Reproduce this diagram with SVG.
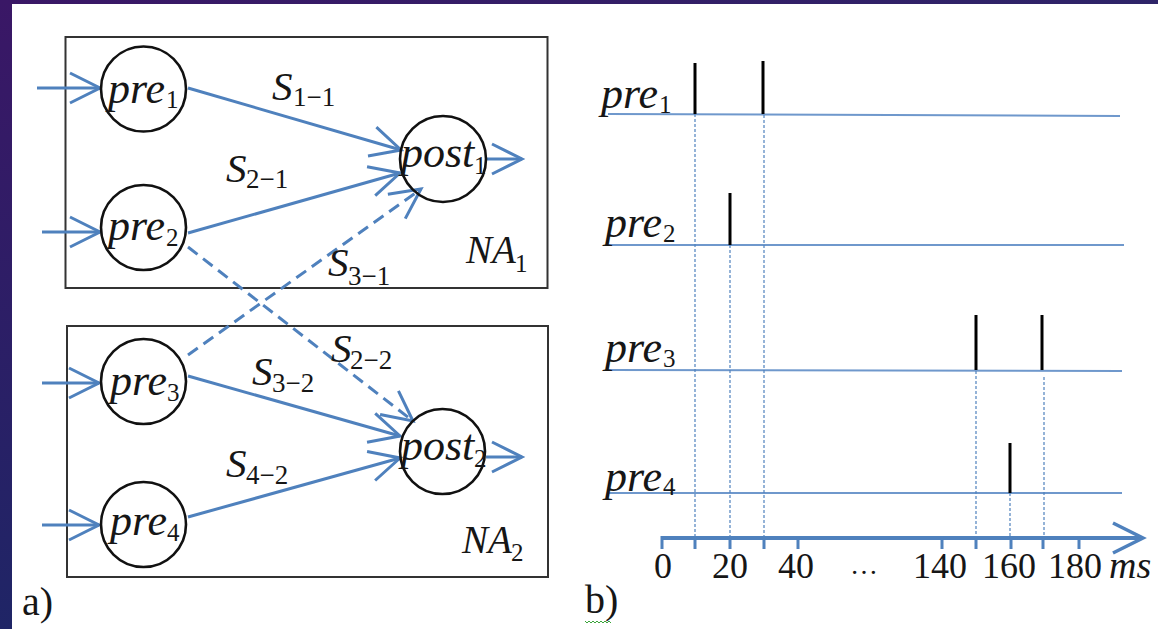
<svg xmlns="http://www.w3.org/2000/svg" width="1158" height="629" viewBox="0 0 1158 629">
<defs>
<linearGradient id="gTop" x1="0" y1="0" x2="1" y2="0">
<stop offset="0" stop-color="#3a1766"/><stop offset="1" stop-color="#2e2468"/>
</linearGradient>
<linearGradient id="gLeft" x1="0" y1="0" x2="0" y2="1">
<stop offset="0" stop-color="#3a1766"/><stop offset="1" stop-color="#1f2566"/>
</linearGradient>
<marker id="chev" markerUnits="userSpaceOnUse" orient="auto" overflow="visible" markerWidth="40" markerHeight="40" refX="0" refY="0">
<path d="M-30,-15 L0,0 L-30,15" fill="none" stroke="#4f81bd" stroke-width="3" stroke-linejoin="miter"/>
</marker>
<style>
.bg{fill:#ffffff}
.box{fill:none;stroke:#333333;stroke-width:2}
.node{fill:#ffffff;stroke:#111111;stroke-width:2.6}
.syn{fill:none;stroke:#4f81bd;stroke-width:3;marker-end:url(#chev)}
.dash{stroke-dasharray:12 7}
.tl{fill:none;stroke:#6f98cc;stroke-width:2}
.vd{fill:none;stroke:#4f81bd;stroke-width:1.2;stroke-dasharray:3 2}
.spike{stroke:#000000;stroke-width:3}
.axis{fill:none;stroke:#4f81bd;stroke-width:4}
.tick{stroke:#4f81bd;stroke-width:3}
.m{font-family:"Liberation Serif",serif;font-style:italic;fill:#161616}
.n{font-size:44px}
.s{font-size:41px}
.na{font-size:39px}
.sub{font-family:"Liberation Serif",serif;font-style:normal;fill:#161616;font-size:25px}
.ssub{font-family:"Liberation Serif",serif;font-style:normal;fill:#161616;font-size:27px}
.num{font-family:"Liberation Serif",serif;fill:#161616;font-size:36px}
.lab{font-family:"Liberation Serif",serif;fill:#161616;font-size:40px}
</style>
</defs>
<rect class="bg" x="0" y="0" width="1158" height="629"/>
<rect x="0" y="0" width="1158" height="4" fill="url(#gTop)"/>
<rect x="0" y="0" width="12" height="629" fill="url(#gLeft)"/>

<g id="NA1">
<rect class="box" x="65.5" y="37" width="482" height="251"/>
<text class="m na" x="466" y="263">NA</text><text class="sub" x="515" y="272">1</text>
</g>
<g id="NA2">
<rect class="box" x="67" y="326" width="481" height="251"/>
<text class="m na" x="462" y="553">NA</text><text class="sub" x="511" y="561">2</text>
</g>

<g id="connectors">
<line class="syn" x1="37" y1="88" x2="100" y2="88"/>
<line class="syn" x1="42" y1="232" x2="100" y2="232"/>
<line class="syn" x1="42" y1="383" x2="99" y2="383"/>
<line class="syn" x1="42" y1="525" x2="99" y2="525"/>
<line class="syn" x1="188" y1="88" x2="401" y2="150"/>
<line class="syn" x1="188" y1="233" x2="400" y2="173"/>
<line class="syn dash" x1="188" y1="355" x2="421" y2="189"/>
<line class="syn dash" x1="188" y1="247" x2="413" y2="421"/>
<line class="syn" x1="188" y1="376" x2="400" y2="436"/>
<line class="syn" x1="188" y1="517" x2="400" y2="458"/>
<line class="syn" x1="486" y1="159" x2="522" y2="159"/>
<line class="syn" x1="486" y1="457" x2="522" y2="457"/>
<text class="m s" x="272" y="100">S</text><text class="ssub" x="293" y="106">1−1</text>
<text class="m s" x="226" y="182">S</text><text class="ssub" x="246" y="188">2−1</text>
<text class="m s" x="328" y="276">S</text><text class="ssub" x="348" y="285">3−1</text>
<text class="m s" x="331" y="362">S</text><text class="ssub" x="350" y="369">2−2</text>
<text class="m s" x="252" y="385">S</text><text class="ssub" x="272" y="392">3−2</text>
<text class="m s" x="226" y="477">S</text><text class="ssub" x="246" y="484">4−2</text>
</g>

<g id="pre1">
<circle class="node" cx="143.5" cy="89" r="42.5"/>
<text class="m n" x="108" y="103">pre</text><text class="sub" x="166" y="108">1</text>
</g>
<g id="pre2">
<circle class="node" cx="143.5" cy="227.5" r="42.5"/>
<text class="m n" x="108" y="240">pre</text><text class="sub" x="166" y="246">2</text>
</g>
<g id="pre3">
<circle class="node" cx="143.5" cy="381.5" r="42.5"/>
<text class="m n" x="110" y="395">pre</text><text class="sub" x="167" y="401">3</text>
</g>
<g id="pre4">
<circle class="node" cx="143.5" cy="524.5" r="42.5"/>
<text class="m n" x="110" y="535">pre</text><text class="sub" x="167" y="541">4</text>
</g>
<g id="post1">
<circle class="node" cx="443" cy="159" r="43" style="fill:none"/>
<text class="m n" x="401" y="167">post</text><text class="sub" x="474" y="174">1</text>
</g>
<g id="post2">
<circle class="node" cx="442.5" cy="451.5" r="42.5" style="fill:none"/>
<text class="m n" x="401" y="460">post</text><text class="sub" x="474" y="467">2</text>
</g>

<text class="lab" x="22" y="615">a)</text>

<g id="timeline">
<line class="tl" x1="608" y1="114" x2="1120" y2="116"/>
<line class="tl" x1="608" y1="245" x2="1124" y2="245"/>
<line class="tl" x1="608" y1="370" x2="1122" y2="371"/>
<line class="tl" x1="608" y1="493" x2="1122" y2="493"/>
<line class="vd" x1="695" y1="114" x2="695" y2="538"/>
<line class="vd" x1="730" y1="245" x2="730" y2="538"/>
<line class="vd" x1="764" y1="115" x2="764" y2="538"/>
<line class="vd" x1="976" y1="371" x2="976" y2="538"/>
<line class="vd" x1="1010" y1="493" x2="1010" y2="538"/>
<line class="vd" x1="1044" y1="377" x2="1044" y2="538"/>
<line class="spike" x1="695" y1="63" x2="695" y2="114"/>
<line class="spike" x1="763" y1="61" x2="763" y2="114"/>
<line class="spike" x1="730" y1="193" x2="730" y2="245"/>
<line class="spike" x1="976" y1="315" x2="976" y2="370"/>
<line class="spike" x1="1042" y1="315" x2="1042" y2="370"/>
<line class="spike" x1="1010" y1="443" x2="1010" y2="493"/>
<line class="axis" x1="662" y1="538" x2="1141" y2="538"/>
<path d="M1113,523 L1143,538 L1113,553" fill="none" stroke="#4f81bd" stroke-width="3.5"/>
<g class="tick">
<line x1="662" y1="536" x2="662" y2="549"/><line x1="695" y1="536" x2="695" y2="549"/>
<line x1="730" y1="536" x2="730" y2="549"/><line x1="764" y1="536" x2="764" y2="549"/>
<line x1="798" y1="536" x2="798" y2="549"/><line x1="942" y1="536" x2="942" y2="549"/>
<line x1="976" y1="536" x2="976" y2="549"/><line x1="1011" y1="536" x2="1011" y2="549"/>
<line x1="1043" y1="536" x2="1043" y2="549"/><line x1="1079" y1="536" x2="1079" y2="549"/>
</g>
<text class="num" x="654" y="578">0</text>
<text class="num" x="712" y="578">20</text>
<text class="num" x="778" y="578">40</text>
<text class="num" x="850" y="574" style="font-size:28px">…</text>
<text class="num" x="913" y="578">140</text>
<text class="num" x="982" y="578">160</text>
<text class="num" x="1048" y="578">180</text>
<text class="m" x="1109" y="578" style="font-size:38px">ms</text>
<text class="m n" x="601" y="108">pre</text><text class="sub" x="659" y="113">1</text>
<text class="m n" x="605" y="237">pre</text><text class="sub" x="663" y="242">2</text>
<text class="m n" x="605" y="362">pre</text><text class="sub" x="663" y="367">3</text>
<text class="m n" x="605" y="491">pre</text><text class="sub" x="663" y="495">4</text>
</g>

<text class="lab" x="585" y="613">b)</text>
<path d="M585,621 l2,2 l2,-2 l2,2 l2,-2 l2,2 l2,-2 l2,2 l2,-2 l2,2 l2,-2 l2,2 l2,-2 l2,2" fill="none" stroke="#3aa53a" stroke-width="1"/>
</svg>
